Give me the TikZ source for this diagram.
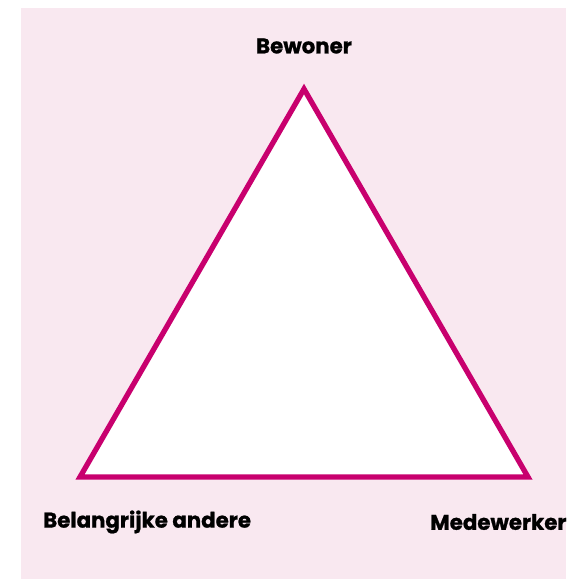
\documentclass[tikz,border=0pt]{standalone}
\usepackage{fontspec}
\setmainfont{Poppins}[BoldFont={* Bold}]
\newfontfamily\lblfont{Poppins Bold}[FakeBold=1]
\definecolor{bgpink}{HTML}{F9E8F0}
\definecolor{tri}{HTML}{C8006E}
\begin{document}
\begin{tikzpicture}[x=1pt,y=-1pt,
  lbl/.style={font=\lblfont\fontsize{21.3}{25}\selectfont, text=black, inner sep=0pt}]
\useasboundingbox (0,0) rectangle (566,579);
\clip (0,0) rectangle (566,579);
\fill[bgpink] (21,8) rectangle (566,579);
\coordinate (A) at (304,89);
\coordinate (B) at (80,477);
\coordinate (C) at (528,477);
\filldraw[fill=white, draw=tri, line width=5.3pt, line join=miter] (A) -- (B) -- (C) -- cycle;
\node[lbl] (bew) at (304,46) {Bewoner};
\node[lbl, anchor=west] (bel) at (43,522) {Belangrijke andere};
\node[lbl, anchor=west] (med) at (430,522) {Medewerker};
\end{tikzpicture}
\end{document}
